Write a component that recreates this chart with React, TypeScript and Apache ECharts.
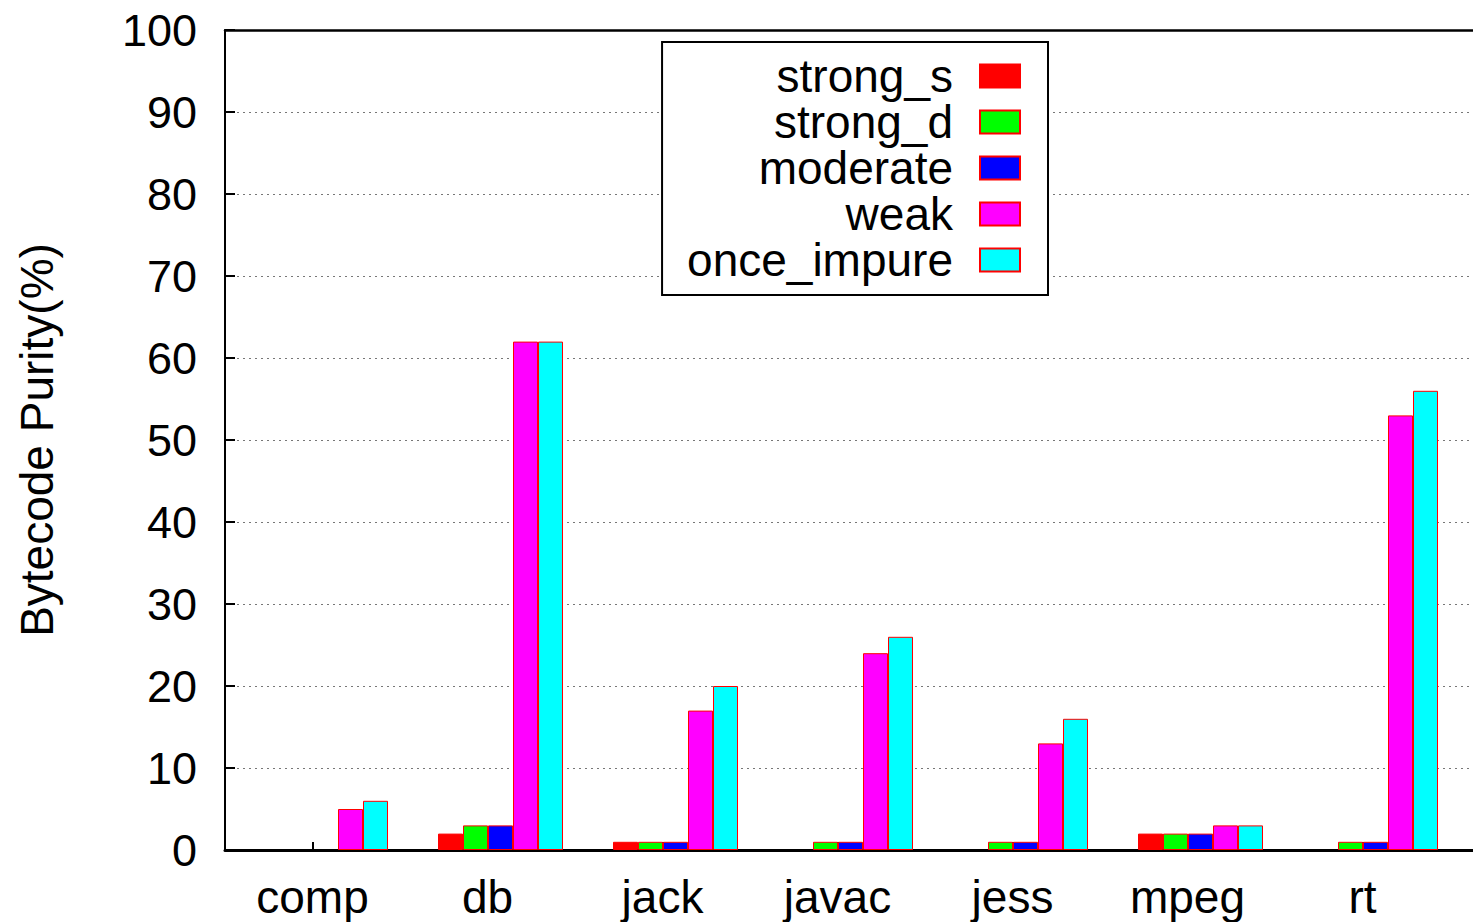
import React, { useEffect, useRef } from "react";
import * as echarts from "echarts";

const categories = ["comp", "db", "jack", "javac", "jess", "mpeg", "rt"];
const seriesNames = ["strong_s", "strong_d", "moderate", "weak", "once_impure"];
const strongS = [0, 2, 1, 0, 0, 2, 0];
const strongD = [0, 3, 1, 1, 1, 2, 1];
const moderate = [0, 3, 1, 1, 1, 2, 1];
const weak = [5, 62, 17, 24, 13, 3, 53];
const onceImpure = [6, 62, 20, 26, 16, 3, 56];
const colors = ["#ff0000", "#00ff00", "#0000ff", "#ff00ff", "#00ffff"];
const yTicks = { min: 0, max: 100, interval: 10 };

const FONT = "'Liberation Sans', Arial, Helvetica, sans-serif";

export default function App() {
  const ref = useRef<HTMLDivElement>(null);
  useEffect(() => {
    if (!ref.current) return;
    const chart = echarts.init(ref.current, undefined, { renderer: "svg" });
    const values = [strongS, strongD, moderate, weak, onceImpure];
    // frame grid spans 225..1473 (1248px); one category slot is 175px
    const slotPx = 175;
    const frameWidth = 1248;
    const catPositions = categories.map((_, k) => k + 0.5);
    const option: any = {
      animation: false,
      backgroundColor: "#ffffff",
      textStyle: { fontFamily: FONT },
      grid: [
        { left: 238, top: 30, width: 1225, height: 820 },
        { left: 225, top: 30, width: frameWidth, height: 820 },
      ],
      legend: {
        orient: "vertical",
        align: "right",
        right: 425,
        top: 42,
        padding: [11, 27, 12, 25],
        borderColor: "#000",
        borderWidth: 2,
        backgroundColor: "#fff",
        icon: "rect",
        itemWidth: 40,
        itemHeight: 23,
        itemGap: 0,
        data: seriesNames,
        textStyle: {
          fontFamily: FONT,
          fontSize: 46,
          color: "#000",
          lineHeight: 46,
          padding: [0, 22, 0, 0],
        },
      },
      xAxis: [
        {
          type: "category",
          gridIndex: 0,
          data: categories,
          show: false,
        },
        {
          type: "value",
          gridIndex: 1,
          position: "bottom",
          min: 0,
          max: frameWidth / slotPx,
          axisLine: { show: true, onZero: false, lineStyle: { color: "#000", width: 3 } },
          axisTick: {
            show: true,
            inside: true,
            length: 8,
            customValues: catPositions,
            lineStyle: { color: "#000", width: 2 },
          },
          axisLabel: {
            margin: 24,
            customValues: catPositions,
            formatter: (v: number) => categories[Math.round(v - 0.5)] ?? "",
            fontFamily: FONT,
            fontSize: 46,
            color: "#000",
          },
          splitLine: { show: false },
        },
        {
          type: "value",
          gridIndex: 1,
          position: "top",
          min: 0,
          max: 1,
          axisLine: { show: true, onZero: false, lineStyle: { color: "#000", width: 2.5 } },
          axisTick: { show: false },
          axisLabel: { show: false },
          splitLine: { show: false },
        },
      ],
      yAxis: [
        {
          type: "value",
          gridIndex: 0,
          min: yTicks.min,
          max: yTicks.max,
          interval: yTicks.interval,
          show: false,
        },
        {
          type: "value",
          gridIndex: 1,
          min: yTicks.min,
          max: yTicks.max,
          interval: yTicks.interval,
          name: "Bytecode Purity(%)",
          nameLocation: "middle",
          nameGap: 165,
          nameTextStyle: { fontFamily: FONT, fontSize: 46, color: "#000" },
          axisLine: { show: true, lineStyle: { color: "#000", width: 2 } },
          axisTick: { show: true, inside: true, length: 10, lineStyle: { color: "#000", width: 2 } },
          axisLabel: { margin: 28, fontFamily: FONT, fontSize: 45, color: "#000" },
          splitLine: {
            show: true,
            lineStyle: { color: "#777", width: 1.2, type: [2, 4] },
          },
        },
      ],
      series: seriesNames.map((name, i) => ({
        name,
        type: "bar",
        xAxisIndex: 0,
        yAxisIndex: 0,
        data: values[i].map((v) => (v === 0 ? null : v)),
        barWidth: 25,
        barGap: "0%",
        itemStyle: { color: colors[i], borderColor: "#ff0000", borderWidth: 1 },
      })),
    };
    chart.setOption(option);
    return () => chart.dispose();
  }, []);
  return (
    <div
      ref={ref}
      style={{ position: "absolute", left: 0, top: 0, width: 1473, height: 922 }}
    />
  );
}
